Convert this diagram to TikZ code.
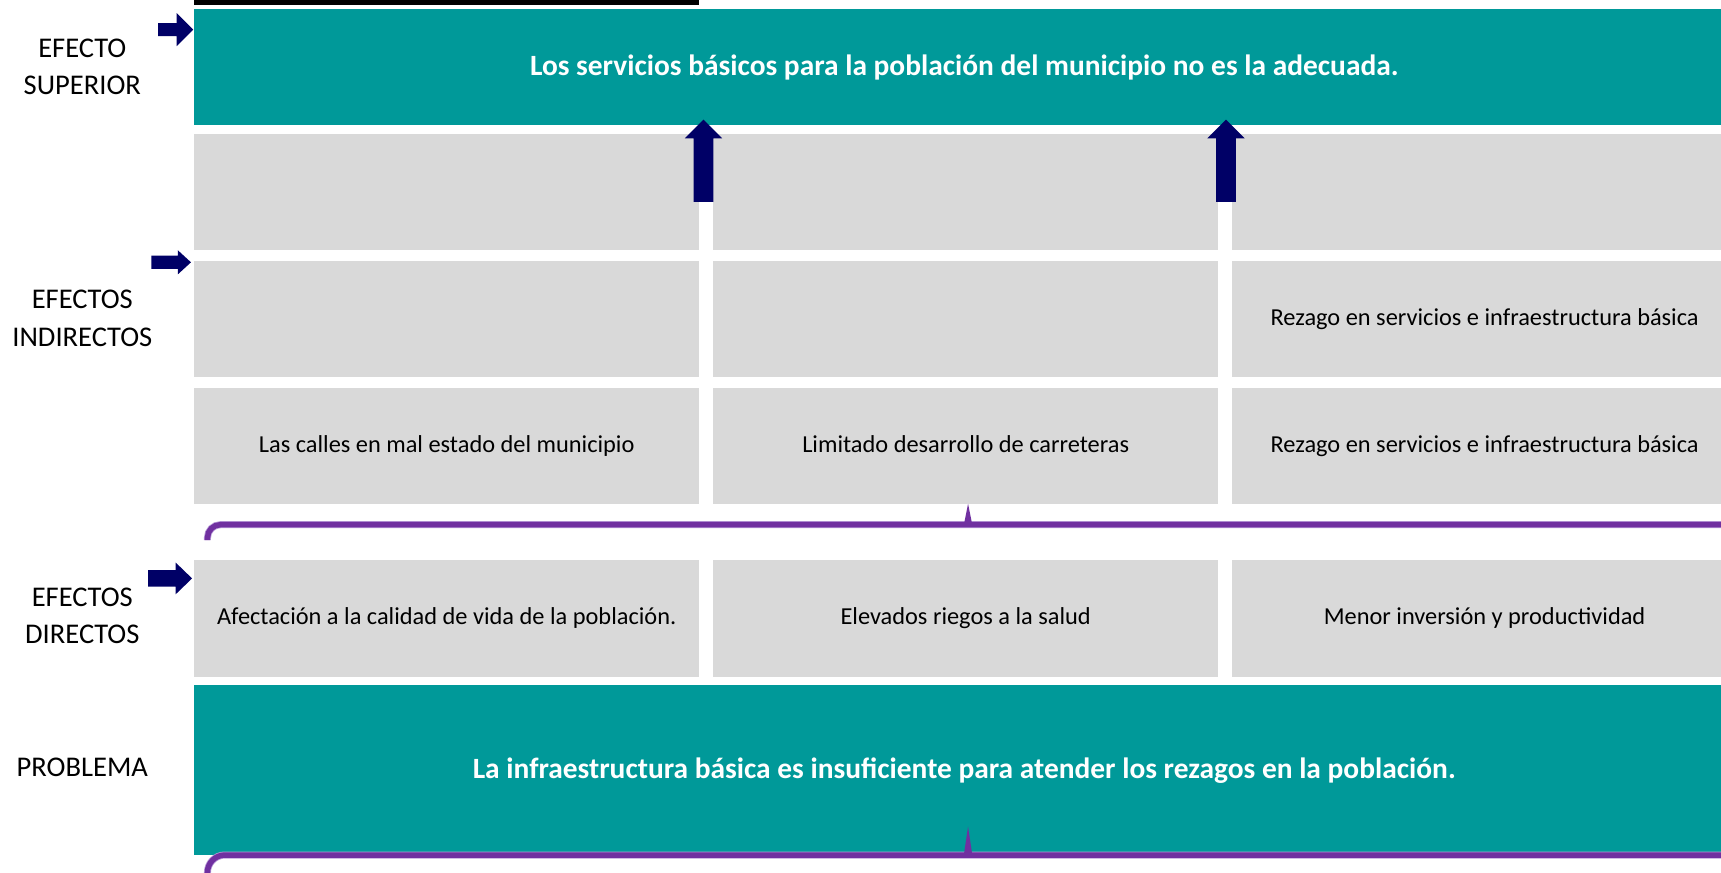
\documentclass[tikz,border=0pt]{standalone}
\usepackage{fontspec}
\setmainfont{Carlito}
\usepackage{xcolor}
\usetikzlibrary{positioning}
\definecolor{tealbg}{HTML}{009999}
\definecolor{cellgray}{HTML}{D9D9D9}
\definecolor{navyarr}{HTML}{000066}
\definecolor{bracepurple}{HTML}{7030A0}
\definecolor{bracelav}{HTML}{B89AD8}
\tikzset{
  cell/.style={fill=cellgray, minimum width=230pt, minimum height=53pt, inner sep=0pt,
    text height=1.6ex, text depth=.4ex, font=\fontsize{11.1}{13}\selectfont},
  tealbox/.style={fill=tealbg, text=white, minimum width=701.5pt, inner sep=0pt,
    font=\bfseries\fontsize{13.4}{15}\selectfont},
  level/.style={align=center, font=\fontsize{13}{17}\selectfont},
  blockarrow/.style={fill=navyarr},
  brace/.style={draw=bracepurple, line width=2.5pt, rounded corners=6pt,
    preaction={draw=bracelav, line width=3.2pt}},
}
\begin{document}
\begin{tikzpicture}[x=0.5pt,y=-0.5pt]
  \useasboundingbox (0,0) rectangle (1568,795);
  \clip (0,0) rectangle (1568,795);
  \fill[white] (0,0) rectangle (1568,795);
  \fill (177,0) rectangle (637,5);

  % cells
  \node[cell] (c11) at (407,175) {};
  \node[cell, right=6pt of c11] (c12) {};
  \node[cell, right=6pt of c12] (c13) {};
  \node[cell, below=4.5pt of c11] (c21) {};
  \node[cell, below=4.5pt of c12] (c22) {};
  \node[cell, below=4.5pt of c13] (c23) {Rezago en servicios e infraestructura básica};
  \node[cell, below=4.5pt of c21] (c31) {Las calles en mal estado del municipio};
  \node[cell, below=4.5pt of c22] (c32) {Limitado desarrollo de carreteras};
  \node[cell, below=4.5pt of c23] (c33) {Rezago en servicios e infraestructura básica};
  \node[cell, below=25pt of c31] (c41) {Afectación a la calidad de vida de la población.};
  \node[cell, below=25pt of c32] (c42) {Elevados riegos a la salud};
  \node[cell, below=25pt of c33] (c43) {Menor inversión y productividad};

  % teal boxes
  \node[tealbox, minimum height=53pt, above=3.5pt of c11.north west, anchor=south west] (sup)
    {Los servicios básicos para la población del municipio no es la adecuada.};
  \node[tealbox, minimum height=77.5pt, below=3.5pt of c41.south west, anchor=north west] (prob)
    {La infraestructura básica es insuficiente para atender los rezagos en la población.};

  % levels
  \node[level] (lsup) at (75,61) {EFECTO\\SUPERIOR};
  \node[level] (lind) at (75,290) {EFECTOS\\INDIRECTOS};
  \node[level] (ldir) at (75,561) {EFECTOS\\DIRECTOS};
  \node[level] (lprob) at (75,699) {PROBLEMA};

  % arrows
  \foreach \tx/\ty/\len/\hl/\hw/\sw in {176/27/32/15/15/6, 174/239/36/12/11/6, 175/527/40/15/14.5/7.5}
    \fill[blockarrow] (\tx,\ty) -- ++(-\hl,\hw) -- ++(0,-\hw+\sw) -- ++(-\len+\hl,0)
      -- ++(0,-2*\sw) -- ++(\len-\hl,0) -- ++(0,-\hw+\sw) -- cycle;
  \foreach \ax in {641,1117}
    \fill[blockarrow] (\ax,109) -- ++(17,17) -- ++(-8,0) -- ++(0,58) -- ++(-18,0)
      -- ++(0,-58) -- ++(-8,0) -- cycle;

  % braces
  \draw[brace] (189,492) |- (1600,478);
  \fill[bracepurple] (878,479) -- (882,459) -- (886,479) -- cycle;
  \draw[brace, rounded corners=8pt] (189,810) |- (1600,779);
  \fill[bracepurple] (878,780) -- (882,753) -- (886,780) -- cycle;
\end{tikzpicture}
\end{document}
